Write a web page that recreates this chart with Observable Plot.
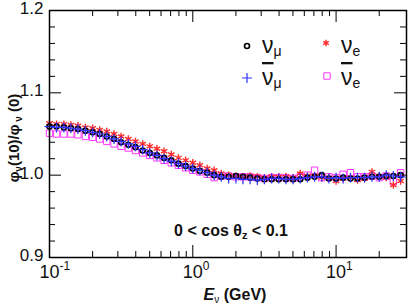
<!DOCTYPE html>
<html><head><meta charset="utf-8">
<script src="https://cdn.jsdelivr.net/npm/d3@7"></script>
<script src="https://cdn.jsdelivr.net/npm/@observablehq/plot@0.6"></script>
<style>body{margin:0;background:#fff}svg{display:block}</style>
</head><body><div id="chart"></div><script>
// Neutrino energy bins (GeV)
const energy = [0.1,0.112,0.126,0.141,0.158,0.178,0.2,0.224,0.251,0.282,
  0.316,0.355,0.398,0.447,0.501,0.562,0.631,0.708,0.794,0.891,
  1,1.12,1.26,1.41,1.58,1.78,2,2.24,2.51,2.82,
  3.16,3.55,3.98,4.47,5.01,5.62,6.31,7.08,7.94,8.91,
  10,11.2,12.6,14.1,15.8,17.8,20,22.4,25.1,28.2];
// flux ratio phi(10)/phi(0)
const numu = [1.059,1.059,1.058,1.057,1.056,1.054,1.052,1.050,1.047,1.044,
  1.040,1.037,1.034,1.030,1.027,1.024,1.021,1.018,1.014,1.011,
  1.008,1.005,1.003,1.000,0.998,0.998,0.999,0.998,0.997,0.996,
  0.995,0.995,0.995,0.995,0.995,0.995,0.997,0.998,1.000,0.996,
  0.996,0.997,0.996,0.996,0.997,0.998,0.998,0.999,0.999,1.000];
const numubar = [1.059,1.058,1.058,1.057,1.056,1.054,1.052,1.050,1.047,1.044,
  1.041,1.038,1.035,1.031,1.027,1.024,1.020,1.017,1.014,1.011,
  1.008,1.006,1.003,1.000,0.998,0.996,0.996,0.995,0.995,0.994,
  0.995,0.996,0.996,0.995,0.995,0.996,0.997,0.998,0.998,0.996,
  0.997,0.996,0.997,0.997,0.997,0.998,0.998,1.000,0.999,0.998];
const nue = [1.063,1.062,1.062,1.061,1.060,1.058,1.057,1.055,1.053,1.050,
  1.047,1.044,1.041,1.038,1.035,1.032,1.029,1.025,1.021,1.018,
  1.015,1.012,1.008,1.006,1.002,1.000,0.999,0.998,0.999,0.998,
  0.997,0.998,0.998,0.998,0.997,1.002,0.999,0.999,0.997,0.997,
  0.993,0.996,0.997,0.994,0.996,1.004,0.999,0.997,0.988,0.993];
const nuebar = [1.051,1.050,1.050,1.050,1.049,1.047,1.046,1.044,1.041,1.038,
  1.035,1.033,1.030,1.027,1.024,1.021,1.018,1.015,1.012,1.009,
  1.006,1.004,1.001,0.997,0.999,0.999,0.998,0.998,0.998,0.997,
  0.996,0.997,0.997,0.997,0.996,0.998,1.000,1.006,0.997,0.998,
  0.997,1.001,1.003,0.998,0.998,0.999,0.997,0.999,0.992,1.003];

const yMajor = [0.9, 1.0, 1.1, 1.2];
const yMinor = [0.92,0.94,0.96,0.98,1.02,1.04,1.06,1.08,1.12,1.14,1.16,1.18];
const xMajor = [0.1, 1, 10];
const xMinor = [0.2,0.3,0.4,0.5,0.6,0.7,0.8,0.9,2,3,4,5,6,7,8,9,20];
const xTickExp = ["-1", "0", "1"];

const W = 409, H = 305, mL = 49, mR = 3, mT = 10, mB = 48;
const fw = W - mL - mR, fh = H - mT - mB;
const FONT = "'Liberation Sans', Arial, Helvetica, sans-serif";

const rows = energy.map((e, i) => ({e, numu: numu[i], numubar: numubar[i], nue: nue[i], nuebar: nuebar[i]}));

const series = [
  {key: "nuebar", symbol: "square", color: "#ff33ff", r: 3.6, sw: 1},
  {key: "nue", symbol: "asterisk", color: "#ff2a2a", r: 3.5, sw: 1.4},
  {key: "numu", symbol: "circle", color: "#000000", r: 2.5, sw: 1.6},
  {key: "numubar", symbol: "plus", color: "#2f2fff", r: 3.3, sw: 1.2}
];

const MAJ = 12, MIN = 6;
const chart = Plot.plot({
  width: W, height: H,
  marginLeft: mL, marginRight: mR, marginTop: mT, marginBottom: mB,
  style: {fontFamily: FONT, background: "white"},
  x: {type: "log", domain: [0.1, 31], axis: null},
  y: {domain: [0.9, 1.2]},
  marks: [
    Plot.tickY(yMajor, {y: d => d, insetRight: fw - MAJ, stroke: "black", strokeWidth: 1}),
    Plot.tickY(yMinor, {y: d => d, insetRight: fw - MIN, stroke: "black", strokeWidth: 1}),
    Plot.tickY(yMajor, {y: d => d, insetLeft: fw - MAJ, stroke: "black", strokeWidth: 1}),
    Plot.tickY(yMinor, {y: d => d, insetLeft: fw - MIN, stroke: "black", strokeWidth: 1}),
    Plot.tickX(xMajor, {x: d => d, insetTop: fh - MAJ, stroke: "black", strokeWidth: 1}),
    Plot.tickX(xMinor, {x: d => d, insetTop: fh - MIN, stroke: "black", strokeWidth: 1}),
    Plot.tickX(xMajor, {x: d => d, insetBottom: fh - MAJ, stroke: "black", strokeWidth: 1}),
    Plot.tickX(xMinor, {x: d => d, insetBottom: fh - MIN, stroke: "black", strokeWidth: 1}),
    ...series.map(s => Plot.dot(rows, {x: "e", y: s.key, symbol: s.symbol, r: s.r,
      fill: "none", stroke: s.color, strokeWidth: s.sw})),
    Plot.frame({stroke: "black", strokeWidth: 1.5}),
    Plot.axisY(yMajor, {tickSize: 0, tickPadding: 6, fontSize: 17, dy: -2,
      tickFormat: d3.format(".1f"), fill: "#111"})
  ]
});

const svg = d3.select(chart);
const xs = chart.scale("x");

// x tick labels 10^k
xMajor.forEach((v, i) => {
  const t = svg.append("text").attr("x", xs.apply(v) - 9.5).attr("y", 278).attr("text-anchor", "start")
    .attr("fill", "#111").style("font-family", FONT).style("font-size", "18px");
  t.append("tspan").text("10");
  t.append("tspan").attr("dy", -8).style("font-size", "12px").text(xTickExp[i]);
});

// x axis title
{
  const t = svg.append("text").attr("x", 235).attr("y", 300).attr("text-anchor", "middle")
    .attr("fill", "#111").style("font-family", FONT).style("font-size", "16px").style("font-weight", "bold");
  t.append("tspan").style("font-style", "italic").text("E");
  t.append("tspan").attr("dy", 3).style("font-size", "10px").style("font-weight", "normal").text("ν");
  t.append("tspan").attr("dy", -3).text(" (GeV)");
}
// y axis title
{
  const t = svg.append("text").attr("transform", "translate(19,138) rotate(-90)").attr("text-anchor", "middle")
    .attr("fill", "#111").style("font-family", FONT).style("font-size", "15px").style("font-weight", "bold");
  t.append("tspan").text("φ");
  t.append("tspan").attr("dy", 3).style("font-size", "10px").text("ν");
  t.append("tspan").attr("dy", -3).text("(10)/φ");
  t.append("tspan").attr("dy", 3).style("font-size", "10px").text(" ν");
  t.append("tspan").attr("dy", -3).text(" (0)");
}
// annotation
{
  const t = svg.append("text").attr("x", 231).attr("y", 236).attr("text-anchor", "middle")
    .attr("fill", "#111").style("font-family", FONT).style("font-size", "16px").style("font-weight", "bold");
  t.append("tspan").text("0 < cos θ");
  t.append("tspan").attr("dy", 3).style("font-size", "11px").text("z");
  t.append("tspan").attr("dy", -3).text(" < 0.1");
}
// legend
const legend = [
  {key: "numu", sym: d3.symbolCircle, bar: false, sub: "μ", sx: 247, sy: 46, tx: 262, ty: 53},
  {key: "nue", sym: d3.symbolAsterisk, bar: false, sub: "e", sx: 326, sy: 43, tx: 341, ty: 53},
  {key: "numubar", sym: d3.symbolPlus, bar: true, sub: "μ", sx: 247, sy: 78, tx: 262, ty: 85},
  {key: "nuebar", sym: d3.symbolSquare, bar: true, sub: "e", sx: 327, sy: 76, tx: 341, ty: 85}
];
legend.forEach(l => {
  const s = series.find(d => d.key === l.key);
  const rr = l.key === "nue" ? 3.0 : s.r;
  svg.append("path").attr("transform", `translate(${l.sx},${l.sy})`)
    .attr("d", d3.symbol(l.sym, Math.PI * rr * rr)())
    .attr("fill", "none").attr("stroke", s.color).attr("stroke-width", s.sw);
  const t = svg.append("text").attr("x", l.tx).attr("y", l.ty).attr("text-anchor", "start")
    .attr("fill", "#111").style("font-family", FONT).style("font-size", "23px");
  const nu = t.append("tspan").text("ν");
  if (l.bar) nu.style("text-decoration", "overline");
  t.append("tspan").attr("dy", 3).style("font-size", "14px").text(l.sub);
});

document.getElementById("chart").appendChild(chart);
</script></body></html>
